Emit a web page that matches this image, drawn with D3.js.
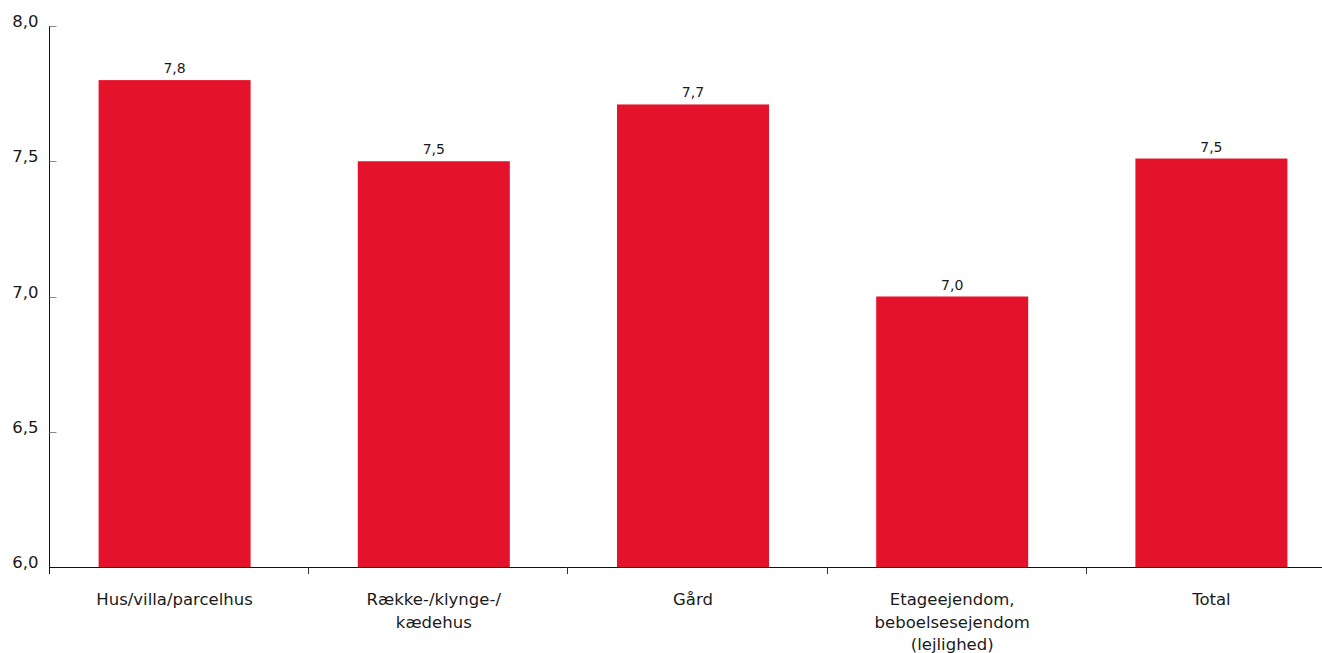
<!DOCTYPE html>
<html><head><meta charset="utf-8">
<script src="https://cdn.jsdelivr.net/npm/d3@7"></script>
<style>
html,body{margin:0;padding:0;background:#fff;}
svg{display:block;font-family:"DejaVu Sans",sans-serif;}
</style></head>
<body>
<svg id="c" width="1322" height="653"></svg>
<script>
const categories = [["Hus/villa/parcelhus"], ["Række-/klynge-/", "kædehus"], ["Gård"], ["Etageejendom,", "beboelsesejendom", "(lejlighed)"], ["Total"]];
const values = [7.80, 7.50, 7.71, 7.00, 7.51];
const yTicks = [6.0, 6.5, 7.0, 7.5, 8.0];

const svg = d3.select("#c");
const fmt = v => d3.format(".1f")(v).replace(".", ",");

const x = d3.scaleBand().domain(d3.range(categories.length)).range([47, 1343]).paddingInner(0).paddingOuter(0);
const y = d3.scaleLinear().domain([6, 8]).range([567, 26]);
const barW = 152;

// bars
svg.append("g").selectAll("rect").data(values).join("rect")
  .attr("x", (d, i) => x(i) + x.bandwidth() / 2 - barW / 2 - 2)
  .attr("width", barW)
  .attr("y", d => y(d))
  .attr("height", d => y(6) - y(d))
  .attr("fill", "#E4122A");

// value labels
svg.append("g").selectAll("text").data(values).join("text")
  .attr("x", (d, i) => x(i) + x.bandwidth() / 2 - 2)
  .attr("y", d => y(d) - 7)
  .attr("text-anchor", "middle")
  .attr("font-size", 14)
  .attr("fill", "#1a1a1a")
  .text(d => fmt(d));

// y axis
const yAxis = svg.append("g").attr("transform", "translate(49.5,0)");
yAxis.append("line").attr("y1", y(8)).attr("y2", y(6) + 7).attr("stroke", "#111").attr("stroke-width", 1);
yAxis.selectAll("line.t").data(yTicks).join("line").attr("class", "t")
  .attr("x1", 0).attr("x2", 7)
  .attr("y1", d => Math.round(y(d)) + 0.5).attr("y2", d => Math.round(y(d)) + 0.5)
  .attr("stroke", "#888").attr("stroke-width", 1);
yAxis.selectAll("text").data(yTicks).join("text")
  .attr("x", -11).attr("y", d => y(d) + 1)
  .attr("text-anchor", "end")
  .attr("font-size", 16.5)
  .attr("fill", "#1a1a1a")
  .text(d => fmt(d));

// x axis
const xAxis = svg.append("g");
xAxis.append("line").attr("x1", 49).attr("x2", 1322).attr("y1", 567.5).attr("y2", 567.5).attr("stroke", "#111");
const bounds = d3.range(categories.length).map(i => x(i) + 2).concat([x.range()[1]]);
xAxis.selectAll("line.t").data(bounds.slice(1)).join("line").attr("class", "t")
  .attr("x1", d => Math.round(d) + 0.5).attr("x2", d => Math.round(d) + 0.5)
  .attr("y1", 567).attr("y2", 574).attr("stroke", "#333");

const lab = xAxis.selectAll("text").data(categories).join("text")
  .attr("text-anchor", "middle")
  .attr("font-size", 16.5)
  .attr("fill", "#1a1a1a");
lab.each(function(lines, i) {
  const t = d3.select(this);
  lines.forEach((s, j) => {
    t.append("tspan").attr("x", x(i) + x.bandwidth() / 2 - 2).attr("y", 605 + j * 22.5).text(s);
  });
});
</script>
</body></html>
